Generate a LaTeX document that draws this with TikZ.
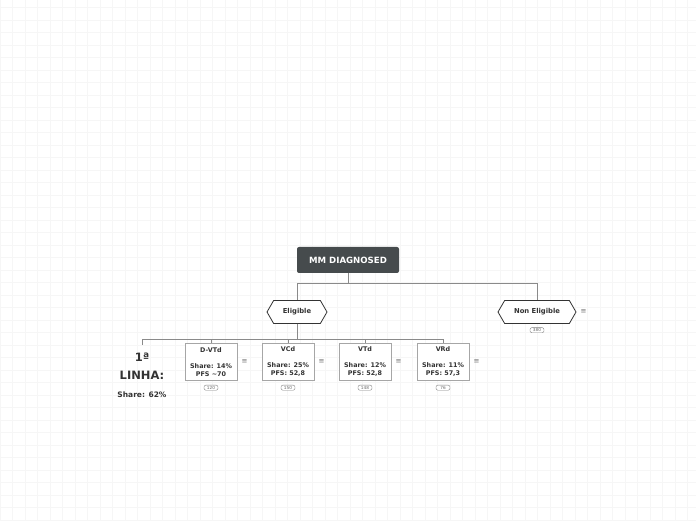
\documentclass[tikz,border=0pt]{standalone}
\usepackage{fontspec}
\setmainfont{DejaVu Sans}
\usetikzlibrary{positioning,shapes.symbols}
\definecolor{rootgray}{HTML}{464B4D}
\definecolor{txtgray}{HTML}{333333}
\definecolor{linegray}{HTML}{8A8A8A}
\definecolor{gridgray}{HTML}{F6F6F6}
\tikzstyle{root}=[rectangle,rounded corners=2pt,fill=rootgray,text=white,minimum width=102pt,minimum height=26pt,font=\fontsize{8.6}{9}\selectfont\bfseries]
\tikzstyle{branch}=[signal,signal to=west and east,signal pointer angle=120,draw=txtgray,fill=white,thick,minimum height=23pt,text=txtgray,font=\fontsize{6.8}{7}\selectfont\bfseries]
\tikzstyle{leaf}=[rectangle,draw=black!35,fill=white,thick,minimum width=52pt,minimum height=37pt,inner sep=1pt,align=center,text=txtgray,font=\fontsize{6.4}{8}\selectfont\bfseries]
\tikzstyle{badge}=[rectangle,rounded corners=2pt,draw=black!50,fill=white,inner sep=1pt,minimum width=14pt,text=black!60,font=\fontsize{4.2}{4.5}\selectfont]
\tikzstyle{menu}=[text=black!55,font=\fontsize{7}{7}\selectfont,inner sep=0pt]
\tikzstyle{link}=[draw=linegray,thick]

\begin{document}
\begin{tikzpicture}[x=1pt,y=1pt]
    \useasboundingbox (0,0) rectangle (696,520);
    \fill[white] (0,0) rectangle (696,520);
    \draw[gridgray,step=12.5] (0,0) grid (696,520);

    % root and first level
    \node[root] (mm) at (348,260) {MM DIAGNOSED};
    \node[branch,minimum width=60pt] (elig) at (297,208) {Eligible};
    \node[branch,minimum width=78pt] (nonelig) at (537,208) {Non Eligible};
    \node[menu,right=4pt of nonelig] (menunon) {≡};
    \node[badge,below=3.5pt of nonelig] (bnon) {380};

    \path[link] (mm.south) -- ++(0,-10) -| (elig.north);
    \path[link] (mm.south) -- ++(0,-10) -| (nonelig.north);

    % first line label
    \node[align=center,text=txtgray,font=\fontsize{11.5}{17.5}\selectfont\bfseries,anchor=north,inner ysep=8pt] (linha) at (142,175) {1ª\\LINHA:};
    \node[text=txtgray,font=\fontsize{7.5}{8}\selectfont\bfseries] (share) at (142,125) {Share: 62\%};

    % treatments
    \foreach \pos/ \name/ \txt/ \num in {{(211,158)/dvtd/{D-VTd\\ \\Share: 14\%\\PFS \textasciitilde70}/120},
        {(288,158)/vcd/{VCd\\ \\Share: 25\%\\PFS: 52,8}/150},
        {(365,158)/vtd/{VTd\\ \\Share: 12\%\\PFS: 52,8}/148},
        {(443,158)/vrd/{VRd\\ \\Share: 11\%\\PFS: 57,3}/76}}
    {
        \node[leaf] (\name) at \pos {\txt};
        \node[menu,right=4pt of \name] (menu\name) {≡};
        \node[badge,below=4pt of \name] (b\name) {\num};
    }

    \foreach \dest in {linha,dvtd,vcd,vtd,vrd}
        \path[link] (elig.south) -- ++(0,-15) -| (\dest.north);

\end{tikzpicture}
\end{document}
